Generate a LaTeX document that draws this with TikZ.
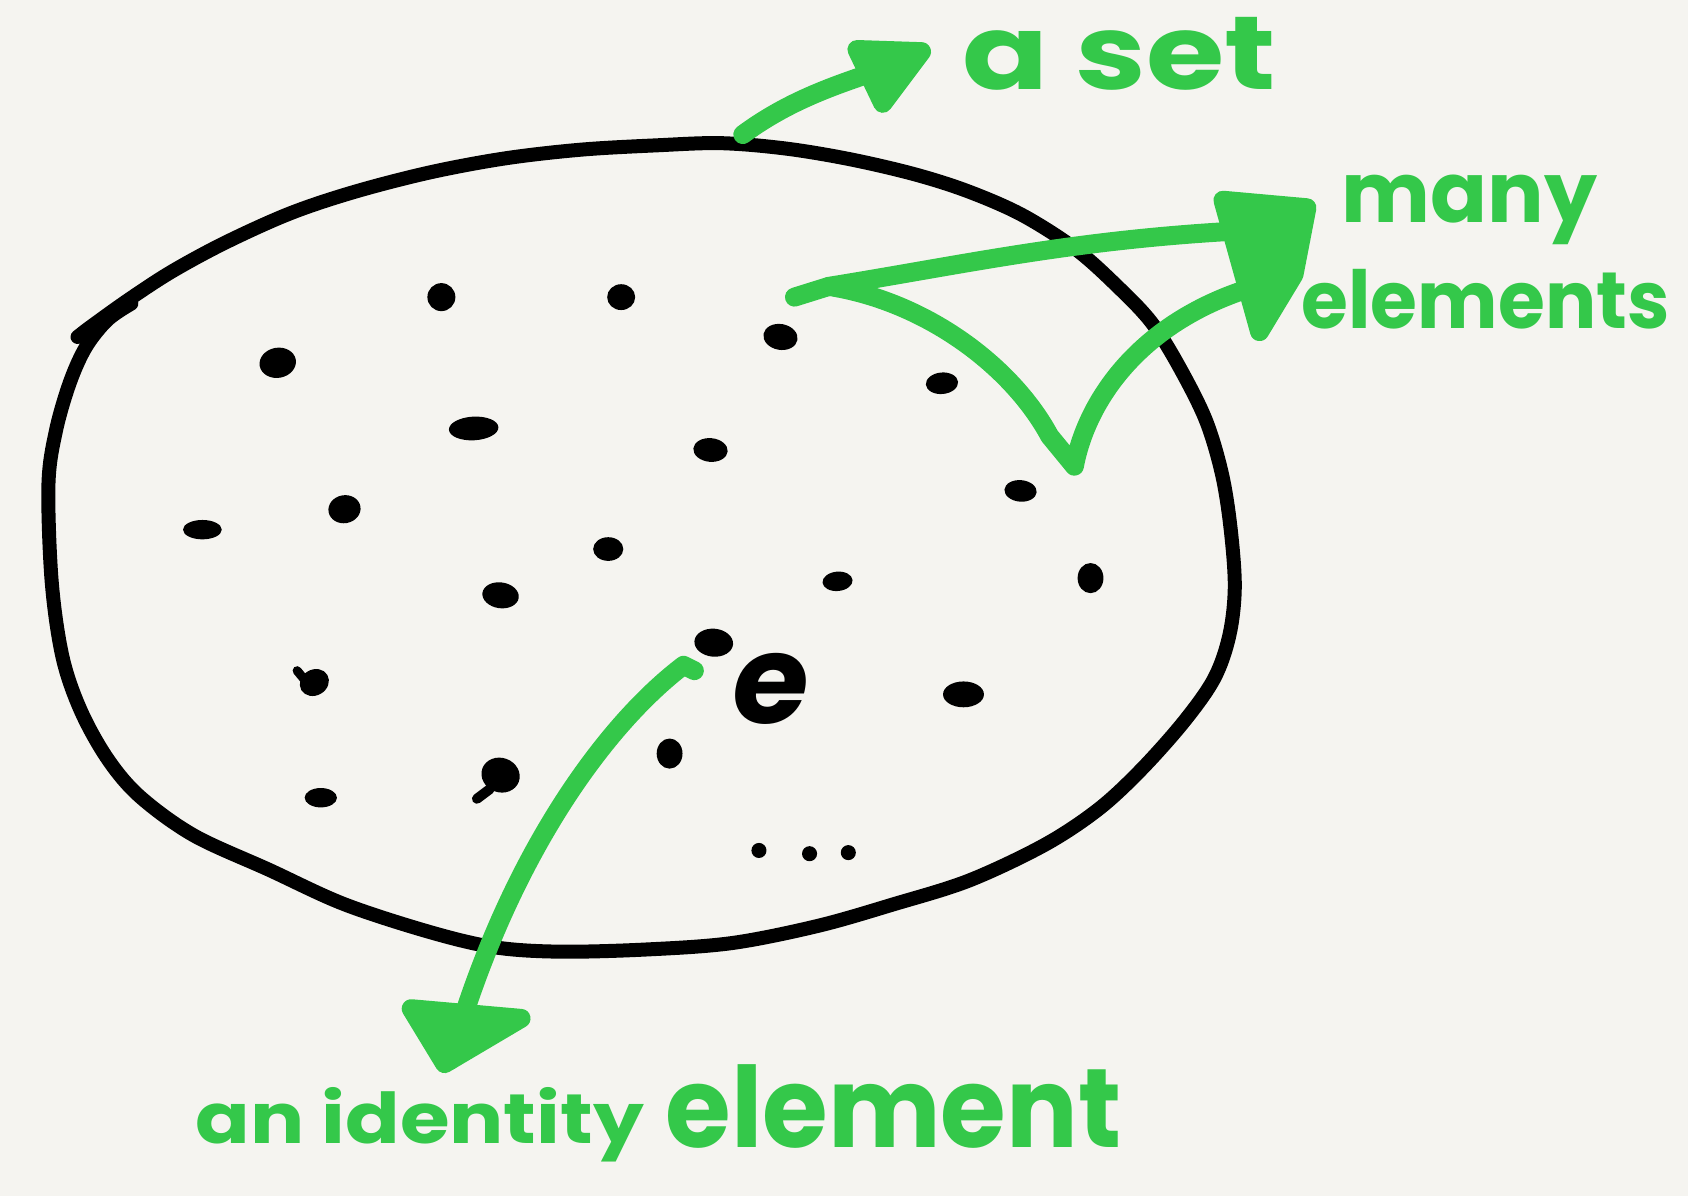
\documentclass[tikz,border=0pt]{standalone}
\usepackage{fontspec}
\setmainfont{Poppins}
\definecolor{bg}{HTML}{F5F4F0}
\definecolor{hand}{HTML}{34C84A}
\begin{document}
\begin{tikzpicture}[x=1.0765pt,y=-1.0765pt,
  outline/.style={line width=14pt,line cap=round,line join=round},
  gline/.style={draw=hand,line width=19pt,line cap=round,line join=round},
  ghead/.style={fill=hand,draw=hand,line width=19pt,line join=round},
  blob/.style={fill=black},
  gtext/.style={text=hand,inner sep=0pt,transform shape}]
\fill[bg] (0,0) rectangle (1568,1111);
\useasboundingbox (0,0) rectangle (1568,1111);
% the set outline
\draw[outline] plot[smooth,tension=0.55] coordinates {
 (72,313) (85,303) (120,278) (160,252) (210,225) (270,198) (330,178) (400,160)
 (470,147) (540,139) (610,135) (670,133) (730,138) (790,148) (850,162) (900,178)
 (950,200) (1000,232) (1040,268) (1070,300) (1095,340) (1120,390) (1135,440)
 (1143,490) (1147,545) (1142,590) (1128,630) (1100,670) (1060,715) (1020,752)
 (970,785) (900,818) (830,840) (760,860) (680,876) (600,882) (520,884) (460,880)
 (400,866) (320,840) (250,808) (180,776) (130,740) (100,705) (75,660) (58,610)
 (48,540) (45,450) (52,400) (65,355) (80,322) (100,297) (122,282)};
% elements
\foreach \x/\y/\a/\b/\r in {258/337/17/14/10, 410/276/13/13/0, 577/276/13/12/0,
  725/313/16/12/-10, 875/356/15/10/5, 440/398/23/11/3, 660/418/16/11/-5,
  188/492/18/9/0, 320/473/15/13/10, 565/510/14/11/0, 948/456/15/10/-5,
  1013/537/12/14/0, 778/540/14/9/5, 465/553/17/12/-8, 663/597/18/13/-5,
  292/634/14/12/30, 895/645/19/12/0, 622/700/12/14/0, 465/720/18/16/-20,
  298/741/15/9/0}
  \fill[blob,rotate around={\r:(\x,\y)}] (\x,\y) ellipse[x radius=\a,y radius=\b];
\draw[line width=10pt,line cap=round] (455,733) -- (443,742);
\draw[line width=9pt,line cap=round] (276,623) -- (290,640);
\foreach \x/\y in {705/790, 752/793, 788/792}
  \fill (\x,\y) circle[radius=7];
\node[inner sep=0pt,font=\bfseries\fontsize{124}{124}\selectfont,xslant=0.15,transform shape] (e) at (716,640) {e};
% arrow to "a set"
\draw[gline] (690,125) .. controls (740,88) and (790,75) .. (838,58);
\filldraw[ghead] (796,46) -- (856,48) -- (820,96) -- cycle;
\node[gtext,font=\bfseries\fontsize{104}{104}\selectfont,xscale=1.22] (aset) at (1040,50) {a set};
% arrows to "many elements"
\coordinate (s) at (738,276);
\coordinate (fork) at (770,266);
\draw[gline] (s) -- (fork) .. controls (900,245) and (1000,222) .. (1160,214);
\draw[gline] (fork) .. controls (860,280) and (940,340) .. (975,405) -- (998,433)
  .. controls (1010,370) and (1060,300) .. (1160,268);
\filldraw[ghead] (1136,186) -- (1214,193) -- (1202,255) -- (1170,308) -- cycle;
\node[gtext,font=\bfseries\fontsize{84}{84}\selectfont] (many) at (1365,195) {many};
\node[gtext,font=\bfseries\fontsize{80}{80}\selectfont,xscale=0.95] (elems) at (1380,278) {elements};
% arrow to "an identity element"
\draw[gline] (645,623) -- (635,618) .. controls (560,675) and (470,800) .. (418,985);
\filldraw[ghead] (382,937) -- (484,946) -- (413,988) -- cycle;
\node[gtext,font=\bfseries\fontsize{70}{70}\selectfont,xscale=1.15] (ident) at (390,1045) {an identity};
\node[gtext,font=\bfseries\fontsize{112}{112}\selectfont,xscale=0.95] (elem) at (830,1028) {element};
\end{tikzpicture}
\end{document}
